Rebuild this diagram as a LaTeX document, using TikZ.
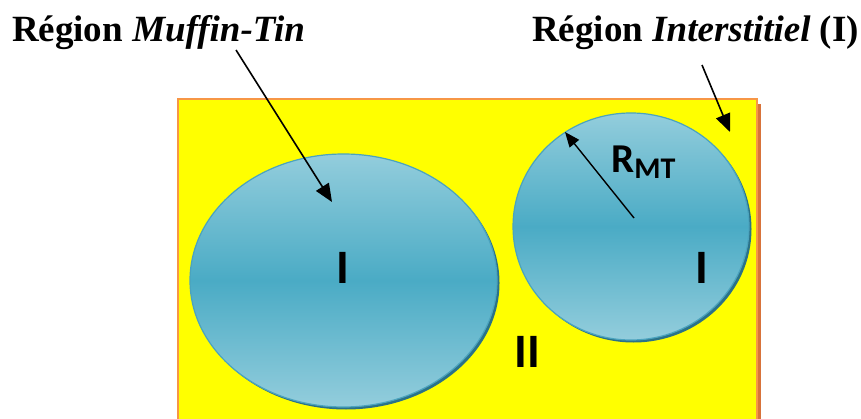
\documentclass[tikz,border=0pt]{standalone}
\usepackage{fontspec}
\setmainfont{Liberation Serif}
\newfontfamily\calib{Carlito}
\usetikzlibrary{arrows.meta}
\definecolor{boxyellow}{HTML}{FFFF00}
\definecolor{boxorange}{HTML}{F79646}
\definecolor{boxshadow}{HTML}{D8733A}
\definecolor{tealLight}{HTML}{93CDDC}
\definecolor{tealMid}{HTML}{4AABC5}
\definecolor{tealEdge}{HTML}{4BA3BE}
\definecolor{tealShadow}{HTML}{2B7288}
\tikzset{
  title/.style={font=\fontsize{37}{42}\selectfont\bfseries, anchor=base, inner sep=0pt},
  region/.style={font=\calib\fontsize{48}{52}\selectfont\bfseries, inner sep=0pt},
  sphere/.style={draw=tealEdge, line width=1.2pt, top color=tealLight, bottom color=tealLight, middle color=tealMid},
  sphereshadow/.style={fill=tealShadow},
  pointer/.style={line width=1.6pt, -{Triangle[length=18pt,width=15pt]}},
  radius/.style={line width=1.4pt, -{Triangle[length=15pt,width=12pt]}}
}
\begin{document}
\begin{tikzpicture}[x=1pt,y=-1pt]
\useasboundingbox (0,0) rectangle (861,419);
\begin{scope}
\clip (0,0) rectangle (861,419);
% interstitial box
\fill[boxshadow] (757,104) rectangle (761,430);
\draw[fill=boxyellow, draw=boxorange, line width=1.6pt] (178,99) rectangle (757,430);
\end{scope}
% spheres
\fill[sphereshadow] (346,283) ellipse [x radius=153.5, y radius=126.5];
\path[sphere] (343.5,280.5) ellipse [x radius=153.5, y radius=126.5];
\fill[sphereshadow] (633.5,229) ellipse [x radius=118, y radius=113.5];
\path[sphere] (631,226.5) ellipse [x radius=118, y radius=113.5];
% labels
\node[title] (mt) at (158.5,42) {Région \textit{Muffin-Tin}};
\node[title] (it) at (695.5,42) {Région \textit{Interstitiel} (I)};
\node[region] (i1) at (343,268) {I};
\node[region] (i2) at (702,268) {I};
\node[region] (ii) at (527,352) {II};
\node[font=\calib\bfseries, inner sep=0pt, anchor=base west] (rmt) at (611,173) {\fontsize{41}{44}\selectfont R\fontsize{30}{32}\selectfont\raisebox{-6pt}{MT}};
% pointers
\coordinate (a1s) at (236,50);
\coordinate (a1e) at (332,202);
\coordinate (a2s) at (702,65);
\coordinate (a2e) at (730,132);
\coordinate (rc) at (634,218);
\coordinate (re) at (565,132);
\draw[pointer] (a1s) -- (a1e);
\draw[pointer] (a2s) -- (a2e);
\draw[radius] (rc) -- (re);
\end{tikzpicture}
\end{document}
